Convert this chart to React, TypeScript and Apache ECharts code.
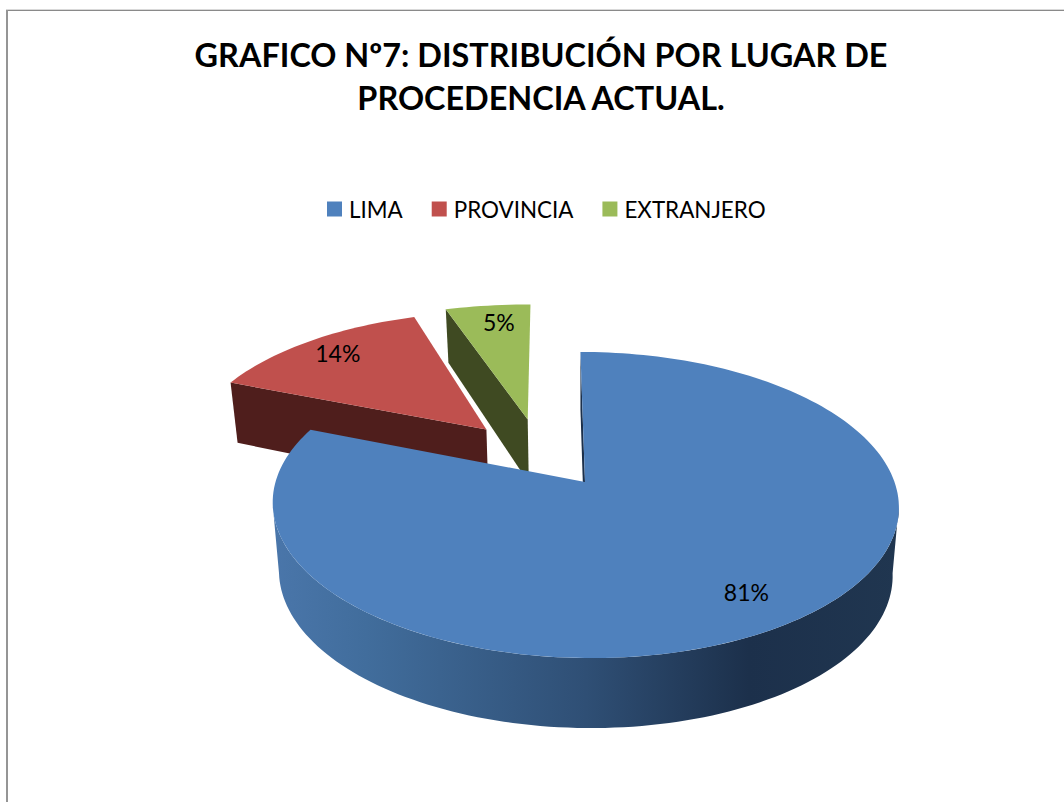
import React, { useEffect, useRef } from "react";
import * as echarts from "echarts";

const categories = ["LIMA", "PROVINCIA", "EXTRANJERO"];
const percentValues = [81, 14, 5];
const titleLines = ["GRAFICO Nº7: DISTRIBUCIÓN POR LUGAR DE", "PROCEDENCIA ACTUAL."];
const topColors = ["#4f81bd", "#c0504d", "#9bbb59"];
const sideColors = ["#2e4d72", "#4f1e1c", "#3f4a22"];
const explodeX = [0, -0.33, -0.19];
const explodeY = [0, -0.37, -0.445];
const sliceSpread = [1, 1, 1.07];
const labelRadius = [0.8, 0.85, 0.84];
const drawOrder = [3, 2, 1];

// Projection of the tilted pie plane
const X0 = 585, Y0 = 482, RX = 309.5, RY = 149.6, PERSP = 0.1503, SKEW = 0.035;
const FONT = "Lato, Carlito, 'Open Sans', sans-serif";
const total = percentValues.reduce((a, b) => a + b, 0);
// Angles (clockwise from 12 o'clock) of the left and right silhouette of the wall
const WALL_FROM = Math.PI - Math.acos(PERSP);
const WALL_TO = Math.PI + Math.acos(PERSP);

function project(X: number, Y: number, lower: boolean): number[] {
  const w = 1 - PERSP * Y;
  const py = (RY * Y) / w;
  const cx = X0 + SKEW * py;
  let x = cx + (RX * X) / w;
  let y = Y0 + py;
  if (lower) {
    x = cx + (x - cx) * 0.98;
    y += Y >= 0 ? 68 + 2 * Y : 68 + 10.5 * Y;
  }
  return [x, y];
}

function anglesBetween(a: number, b: number): number[] {
  const steps = Math.max(4, Math.ceil((b - a) / (Math.PI / 120)));
  const out: number[] = [];
  for (let i = 0; i <= steps; i++) out.push(a + ((b - a) * i) / steps);
  return out;
}

function renderSlice(index: number) {
  return () => {
    const start = (percentValues.slice(0, index).reduce((a, b) => a + b, 0) / total) * Math.PI * 2;
    const end = start + (percentValues[index] / total) * Math.PI * 2;
    const ox = explodeX[index], oy = explodeY[index], spread = sliceSpread[index];
    const rim = (t: number, lower: boolean) =>
      project(ox + spread * Math.sin(t), oy - Math.cos(t), lower);
    const arcAngles = anglesBetween(start, end);

    const apexTop = project(ox, oy, false);
    const apexLow = project(ox, oy, true);
    const children: any[] = [];
    const sideFill =
      index === 0
        ? new echarts.graphic.LinearGradient(0, 0, 1, 0, [
            { offset: 0, color: "#4a76aa" },
            { offset: 0.15, color: "#416d9c" },
            { offset: 0.5, color: "#2f4f75" },
            { offset: 0.76, color: "#1c304b" },
            { offset: 1, color: "#203650" },
          ])
        : sideColors[index];

    const faceColor = index === 0 ? "#1c304b" : sideColors[index];
    // radial faces, only those turned towards the viewer
    const faces: number[] = [];
    if (-Math.sin(start) > -0.001) faces.push(start);
    if (Math.sin(end) > 0.001) faces.push(end);
    faces.forEach((t) => {
      children.push({
        type: "polygon",
        shape: { points: [apexTop, rim(t, false), rim(t, true), apexLow] },
        style: { fill: faceColor },
      });
    });
    // outer wall, the front part only
    const a = Math.max(start, WALL_FROM), b = Math.min(end, WALL_TO);
    if (b > a) {
      const wallAngles = anglesBetween(a, b);
      children.push({
        type: "polygon",
        shape: {
          points: [
            ...wallAngles.map((t) => rim(t, false)),
            ...wallAngles.slice().reverse().map((t) => rim(t, true)),
          ],
        },
        style: { fill: sideFill },
      });
    }
    // top face
    children.push({
      type: "polygon",
      shape: { points: [apexTop, ...arcAngles.map((t) => rim(t, false))] },
      style: { fill: topColors[index] },
    });
    // percentage label
    const mid = (start + end) / 2;
    const r = labelRadius[index];
    const p = project(ox + r * Math.sin(mid), oy - r * Math.cos(mid), false);
    children.push({
      type: "text",
      style: {
        text: percentValues[index] + "%",
        x: p[0] + 3,
        y: p[1],
        align: "center",
        verticalAlign: "middle",
        fill: "#000000",
        font: `400 23px ${FONT}`,
      },
    });
    return { type: "group", children };
  };
}

export default function App() {
  const ref = useRef<HTMLDivElement>(null);
  useEffect(() => {
    document.body.style.margin = "0";
    const chart = echarts.init(ref.current!, null, { renderer: "svg" });
    chart.setOption({
      animation: false,
      backgroundColor: "#ffffff",
      title: {
        text: titleLines.join("\n"),
        left: 536,
        top: 28,
        textAlign: "center",
        textStyle: {
          fontFamily: FONT,
          fontWeight: 700,
          fontSize: 32.4,
          lineHeight: 43,
          color: "#000000",
        },
      },
      legend: {
        data: categories,
        left: 322,
        top: 193,
        icon: "rect",
        itemWidth: 15,
        itemHeight: 15,
        itemGap: 29,
        textStyle: { fontFamily: FONT, fontSize: 22.4, color: "#000000", padding: [0, 0, 0, 2] },
      },
      graphic: [
        { type: "rect", shape: { x: 6, y: 9, width: 1058, height: 1 }, style: { fill: "#d9d9d9" }, silent: true },
        { type: "rect", shape: { x: 6, y: 10, width: 1058, height: 1 }, style: { fill: "#8a8a8a" }, silent: true },
        { type: "rect", shape: { x: 6, y: 10, width: 2, height: 792 }, style: { fill: "#959595" }, silent: true },
      ],
      series: categories.map((name, i) => ({
        type: "custom",
        name,
        coordinateSystem: "none",
        z: drawOrder[i],
        clip: false,
        silent: true,
        itemStyle: { color: topColors[i] },
        data: [percentValues[i]],
        renderItem: renderSlice(i),
      })),
    });
    return () => chart.dispose();
  }, []);
  return <div ref={ref} style={{ position: "fixed", left: 0, top: 0, width: 1064, height: 802 }} />;
}
